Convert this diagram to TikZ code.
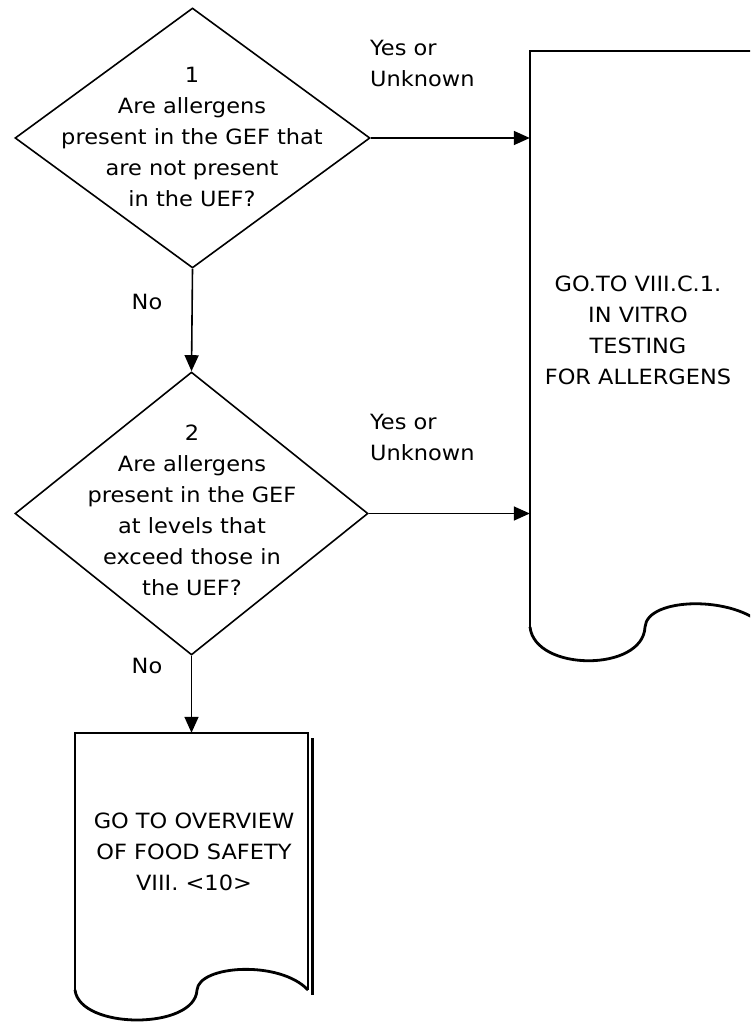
\documentclass[tikz,border=0pt]{standalone}
\usepackage{fontspec}
\setmainfont[FakeStretch=1.07]{DejaVu Sans}
\usetikzlibrary{arrows.meta,shapes.geometric}
\begin{document}
\begin{tikzpicture}[x=1pt,y=-1pt,
  dia/.style={diamond, draw, line width=1.6pt, inner sep=0pt},
  txt/.style={align=center, inner sep=0pt, font=\fontsize{21}{31}\selectfont},
  lbl/.style={align=left, anchor=west, inner sep=0pt, font=\fontsize{21}{31}\selectfont},
  docbox/.style={inner sep=0pt, draw=none},
  docline/.style={line width=1.6pt, line join=miter},
  wave/.style={line width=2.8pt},
  arr/.style={line width=1.6pt, -{Triangle[length=16pt,width=14pt]}}]
\useasboundingbox (0,0) rectangle (750,1024);
\clip (0,0) rectangle (750,1024);
\fill[white] (0,0) rectangle (750,1024);
% decisions
\node[dia, minimum width=355pt, minimum height=260pt] (d1) at (192.5,138) {};
\node[txt] (t1) at (192,137) {1\\Are allergens\\present in the GEF that\\are not present\\in the UEF?};
\node[dia, minimum width=353pt, minimum height=283pt] (d2) at (191.5,513.5) {};
\node[txt] (t2) at (192,510) {2\\Are allergens\\present in the GEF\\at levels that\\exceed those in\\the UEF?};
% documents
\node[docbox, minimum width=235pt, minimum height=576pt] (doc1) at (647.5,339) {};
\draw[docline] (doc1.south west) -- (doc1.north west) -- (doc1.north east) -- (doc1.south east);
\draw[wave] (530,627) .. controls (535,672) and (643,672) .. (645,627)
                      .. controls (647,597) and (735,595) .. (765,627);
\node[txt] (t3) at (638,330) {GO.TO VIII.C.1.\\IN VITRO\\TESTING\\FOR ALLERGENS};
\node[docbox, minimum width=233pt, minimum height=257pt] (doc2) at (191.5,861.5) {};
\draw[docline] (doc2.south west) -- (doc2.north west) -- (doc2.north east) -- (doc2.south east);
\draw[line width=2.6pt] (312.5,738) -- (312.5,995);
\draw[wave] (75,990) .. controls (80,1030) and (195,1030) .. (197,990)
                     .. controls (199,965) and (280,960) .. (308,990);
\node[txt] (t4) at (194,852) {GO TO OVERVIEW\\OF FOOD SAFETY\\VIII. <10>};
% connectors
\draw[arr] (d1.south) -- (d2.north);
\draw[arr] (d2.south) -- (d2.south |- doc2.north);
\draw[arr] (d1.east) -- (d1.east -| doc1.west);
\draw[arr] (d2.east) -- (d2.east -| doc1.west);
% labels
\node[lbl] (y1) at (370,63) {Yes or\\Unknown};
\node[lbl] (y2) at (370,437) {Yes or\\Unknown};
\node[txt] (n1) at (147,302) {No};
\node[txt] (n2) at (147,666) {No};
\end{tikzpicture}
\end{document}
